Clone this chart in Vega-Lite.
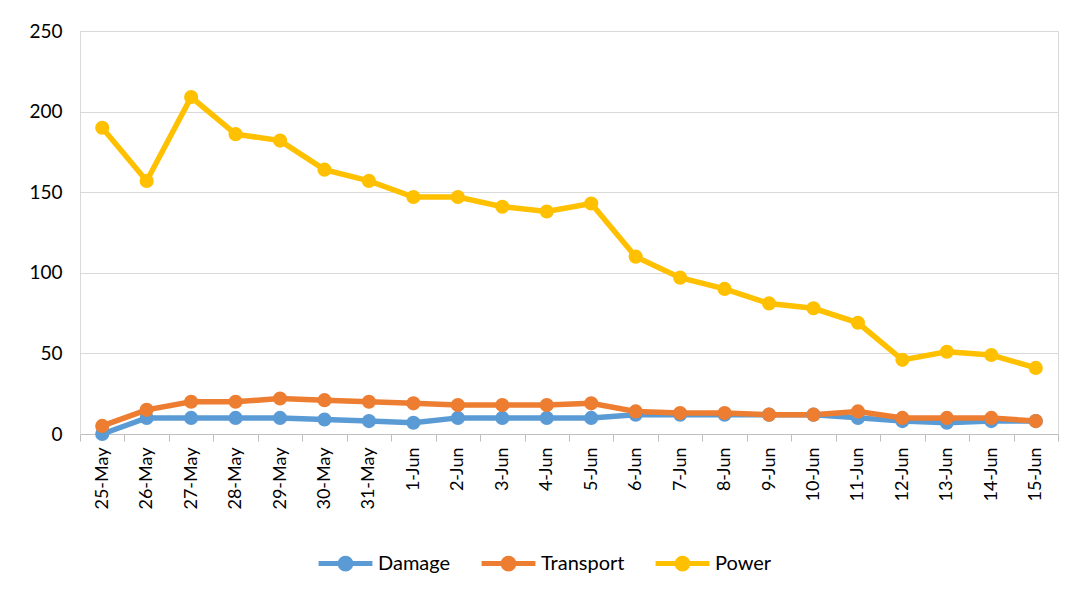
{
  "$schema": "https://vega.github.io/schema/vega-lite/v6.json",
  "width": 978,
  "height": 403,
  "autosize": "none",
  "padding": {"left": 80, "top": 31, "right": 18, "bottom": 162},
  "background": "white",
  "config": {
    "font": "Lato",
    "view": {"stroke": "#d9d9d9", "strokeWidth": 1},
    "axis": {"labelFont": "Lato", "labelColor": "#000000", "gridColor": "#d9d9d9", "domainColor": "#bfbfbf", "tickColor": "#bfbfbf"}
  },
  "data": {
    "values": [
      {"date": "25-May", "Damage": 0, "Transport": 5, "Power": 190},
      {"date": "26-May", "Damage": 10, "Transport": 15, "Power": 157},
      {"date": "27-May", "Damage": 10, "Transport": 20, "Power": 209},
      {"date": "28-May", "Damage": 10, "Transport": 20, "Power": 186},
      {"date": "29-May", "Damage": 10, "Transport": 22, "Power": 182},
      {"date": "30-May", "Damage": 9, "Transport": 21, "Power": 164},
      {"date": "31-May", "Damage": 8, "Transport": 20, "Power": 157},
      {"date": "1-Jun", "Damage": 7, "Transport": 19, "Power": 147},
      {"date": "2-Jun", "Damage": 10, "Transport": 18, "Power": 147},
      {"date": "3-Jun", "Damage": 10, "Transport": 18, "Power": 141},
      {"date": "4-Jun", "Damage": 10, "Transport": 18, "Power": 138},
      {"date": "5-Jun", "Damage": 10, "Transport": 19, "Power": 143},
      {"date": "6-Jun", "Damage": 12, "Transport": 14, "Power": 110},
      {"date": "7-Jun", "Damage": 12, "Transport": 13, "Power": 97},
      {"date": "8-Jun", "Damage": 12, "Transport": 13, "Power": 90},
      {"date": "9-Jun", "Damage": 12, "Transport": 12, "Power": 81},
      {"date": "10-Jun", "Damage": 12, "Transport": 12, "Power": 78},
      {"date": "11-Jun", "Damage": 10, "Transport": 14, "Power": 69},
      {"date": "12-Jun", "Damage": 8, "Transport": 10, "Power": 46},
      {"date": "13-Jun", "Damage": 7, "Transport": 10, "Power": 51},
      {"date": "14-Jun", "Damage": 8, "Transport": 10, "Power": 49},
      {"date": "15-Jun", "Damage": 8, "Transport": 8, "Power": 41}
    ]
  },
  "transform": [
    {"fold": ["Damage", "Transport", "Power"], "as": ["series", "value"]}
  ],
  "encoding": {
    "x": {
      "field": "date", "type": "ordinal", "sort": null,
      "scale": {"type": "band", "paddingInner": 0, "paddingOuter": 0},
      "axis": {"title": null, "labelAngle": -90, "labelFontSize": 18, "tickBand": "extent", "grid": false, "tickSize": 7, "labelPadding": 6, "domainColor": "#bfbfbf"}
    },
    "y": {
      "field": "value", "type": "quantitative",
      "scale": {"domain": [0, 250], "nice": false},
      "axis": {"title": null, "values": [0, 50, 100, 150, 200, 250], "labelFontSize": 19, "ticks": false, "labelPadding": 18, "domain": true, "domainColor": "#d9d9d9"}
    },
    "color": {
      "field": "series", "type": "nominal",
      "scale": {"domain": ["Damage", "Transport", "Power"], "range": ["#5B9BD5", "#ED7D31", "#FFC000"]},
      "legend": {
        "title": null, "orient": "none", "direction": "horizontal",
        "legendX": 236, "legendY": 503,
        "labelFontSize": 20, "labelColor": "#000000", "labelFont": "Lato",
        "symbolType": "M-1,0L1,0M-0.2,0A0.2,0.2,0,1,1,0.2,0A0.2,0.2,0,1,1,-0.2,0Z",
        "symbolSize": 2900, "symbolStrokeWidth": 5, "columnPadding": 20, "labelOffset": 3,
        "encode": {"symbols": {"update": {"fill": {"field": "value", "scale": "color"}, "stroke": {"field": "value", "scale": "color"}}}}
      }
    }
  },
  "layer": [
    {"mark": {"type": "line", "strokeWidth": 5.5}},
    {"mark": {"type": "point", "filled": true, "size": 200, "opacity": 1}}
  ]
}
